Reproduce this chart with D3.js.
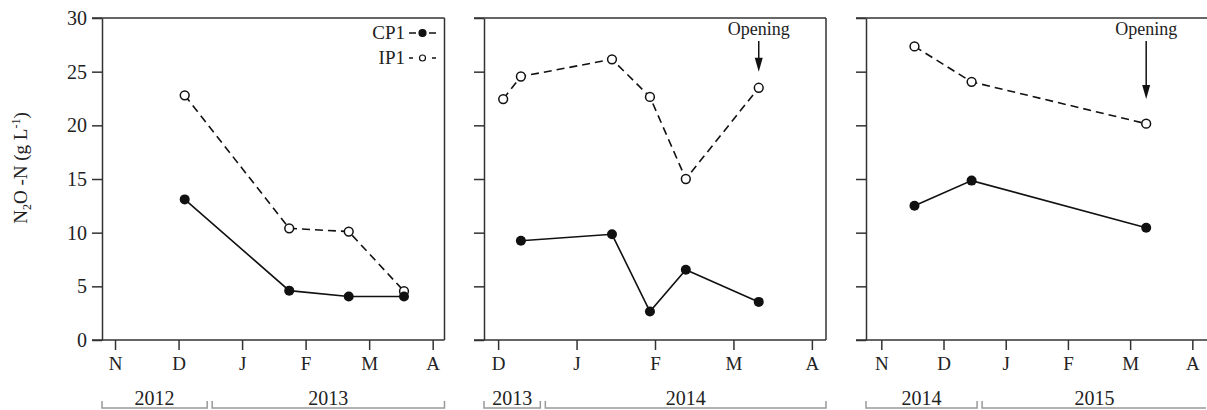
<!DOCTYPE html>
<html>
<head>
<meta charset="utf-8">
<script src="https://cdn.jsdelivr.net/npm/d3@7"></script>
<style>
  body { margin: 0; background: #fff; }
  text { font-family: "Liberation Serif", "Times New Roman", serif; fill: #222; }
</style>
</head>
<body>
<script>
// month letters shown on each panel (first letter = month index 0)
let months1 = ["N", "D", "J", "F", "M", "A"];
let months2 = ["D", "J", "F", "M", "A"];
let months3 = ["N", "D", "J", "F", "M", "A"];

// sampling dates per panel
let dates1 = ["2012-12-04", "2013-01-24", "2013-02-20", "2013-03-18"];
let cp1_1 = [13.1, 4.6, 4.05, 4.05];
let ip1_1 = [22.8, 10.4, 10.1, 4.55];

let dates2 = ["2013-12-03", "2013-12-10", "2014-01-15", "2014-01-30", "2014-02-12", "2014-03-11"];
let cp1_2 = [null, 9.25, 9.85, 2.65, 6.55, 3.55];
let ip1_2 = [22.45, 24.55, 26.15, 22.65, 15.0, 23.5];

let dates3 = ["2014-11-17", "2014-12-15", "2015-03-09"];
let cp1_3 = [12.5, 14.85, 10.45];
let ip1_3 = [27.35, 24.05, 20.15];

// years under each panel, and where the year bracket splits (in months from panel start)
let years1 = ["2012", "2013"], split1 = 1.49;
let years2 = ["2013", "2014"], split2 = 0.57;
let years3 = ["2014", "2015"], split3 = 1.58;

// "Opening" arrows: panel index, date, value where the arrow tip ends
let openings = [[1, "2014-03-11", 25.0], [2, "2015-03-09", 22.45]];

let yTicks = [0, 5, 10, 15, 20, 25, 30];

let w = 1207, h = 410;
let svg = d3.select("body").append("svg").attr("width", w).attr("height", h);

let plotTop = 18, plotBottom = 340;
let y = d3.scaleLinear().domain([0, 30]).range([plotBottom, plotTop]);

let panels = [
    { start: "2012-11", months: months1, dates: dates1, cp: cp1_1, ip: ip1_1, years: years1, split: split1,
      dom: [-0.205, 5.186], px: [102, 444.5], right: true },
    { start: "2013-12", months: months2, dates: dates2, cp: cp1_2, ip: ip1_2, years: years2, split: split2,
      dom: [-0.18, 4.18], px: [484, 826], right: true },
    { start: "2014-11", months: months3, dates: dates3, cp: cp1_3, ip: ip1_3, years: years3, split: split3,
      dom: [-0.246, 5.3], px: [866, 1211], right: false }
];

// fractional month offset of a date from the panel's first month
function monthPos(dateStr, startStr) {
    let d = new Date(dateStr + "T00:00:00");
    let s = new Date(startStr + "-01T00:00:00");
    let dim = new Date(d.getFullYear(), d.getMonth() + 1, 0).getDate();
    return (d.getFullYear() * 12 + d.getMonth()) - (s.getFullYear() * 12 + s.getMonth()) + (d.getDate() - 1) / dim;
}

let axisColor = "#333";

panels.forEach(function(p, i) {
    let x = d3.scaleLinear().domain(p.dom).range(p.px);
    let g = svg.append("g");

    // frame: top line + right line
    g.append("line").attr("x1", p.px[0] - 10).attr("x2", p.px[1]).attr("y1", plotTop).attr("y2", plotTop)
        .attr("stroke", axisColor).attr("stroke-width", 1.5);
    if (p.right) {
        g.append("line").attr("x1", p.px[1]).attr("x2", p.px[1]).attr("y1", plotTop).attr("y2", plotBottom)
            .attr("stroke", axisColor).attr("stroke-width", 1.5);
    }

    // y axis
    let yAxis = d3.axisLeft(y).tickValues(yTicks).tickSize(10).tickSizeOuter(0)
        .tickFormat(i === 0 ? d3.format("d") : "");
    let ya = g.append("g").attr("transform", "translate(" + p.px[0] + ",0)").call(yAxis);
    ya.attr("font-family", null);
    ya.select(".domain").attr("stroke", axisColor).attr("stroke-width", 1.5);
    ya.selectAll(".tick line").attr("stroke", axisColor).attr("stroke-width", 1.5);
    ya.selectAll(".tick text").attr("font-size", 20).attr("fill", "#222").attr("x", -15);

    // x axis (bottom line from y tick to right)
    g.append("line").attr("x1", p.px[0] - 10).attr("x2", p.px[1]).attr("y1", plotBottom).attr("y2", plotBottom)
        .attr("stroke", axisColor).attr("stroke-width", 1.5);
    let xAxis = d3.axisBottom(x).tickValues(d3.range(p.months.length)).tickSize(10).tickSizeOuter(0)
        .tickFormat(function(d) { return p.months[d]; });
    let xa = g.append("g").attr("transform", "translate(0," + plotBottom + ")").call(xAxis);
    xa.attr("font-family", null);
    xa.select(".domain").remove();
    xa.selectAll(".tick line").attr("stroke", axisColor).attr("stroke-width", 1.5);
    xa.selectAll(".tick text").attr("font-size", 19).attr("fill", "#222").attr("y", 17);

    // year brackets
    let yb = 408, yt = 401;
    let segs = [[p.px[0], x(p.split) - 2.5], [x(p.split) + 2.5, p.px[1]]];
    segs.forEach(function(s, k) {
        let x2 = Math.min(s[1], w - 1);
        g.append("path")
            .attr("d", "M" + s[0] + "," + yt + "V" + yb + "H" + x2 + (s[1] < w ? "V" + yt : ""))
            .attr("fill", "none").attr("stroke", "#999").attr("stroke-width", 1.5);
        g.append("text").attr("x", (s[0] + Math.min(s[1], w)) / 2).attr("y", 405)
            .attr("text-anchor", "middle").attr("font-size", 20).text(p.years[k]);
    });

    let pts = p.dates.map(function(d, k) {
        return { x: monthPos(d, p.start), cp: p.cp[k], ip: p.ip[k] };
    });

    let lineCP = d3.line()
        .x(function(d) { return x(d.x); }).y(function(d) { return y(d.cp); });
    let lineIP = d3.line()
        .x(function(d) { return x(d.x); }).y(function(d) { return y(d.ip); });

    let ipPts = pts.filter(function(d) { return d.ip != null; });
    let cpPts = pts.filter(function(d) { return d.cp != null; });

    g.append("path").datum(ipPts).attr("d", lineIP)
        .attr("fill", "none").attr("stroke", "#111").attr("stroke-width", 1.6).attr("stroke-dasharray", "8,5");
    g.append("path").datum(cpPts).attr("d", lineCP)
        .attr("fill", "none").attr("stroke", "#111").attr("stroke-width", 1.6);

    g.selectAll(".ipdot").data(ipPts).enter().append("circle")
        .attr("cx", function(d) { return x(d.x); }).attr("cy", function(d) { return y(d.ip); })
        .attr("r", 4.4).attr("fill", "#fff").attr("stroke", "#111").attr("stroke-width", 1.5);
    g.selectAll(".cpdot").data(cpPts).enter().append("circle")
        .attr("cx", function(d) { return x(d.x); }).attr("cy", function(d) { return y(d.cp); })
        .attr("r", 5).attr("fill", "#111");

    // opening arrows
    openings.filter(function(o) { return o[0] === i; }).forEach(function(o) {
        let ox = x(monthPos(o[1], p.start));
        let tipY = y(o[2]);
        g.append("text").attr("x", ox).attr("y", 35).attr("text-anchor", "middle").attr("font-size", 18).text("Opening");
        g.append("line").attr("x1", ox).attr("x2", ox).attr("y1", 41).attr("y2", tipY - 12)
            .attr("stroke", "#111").attr("stroke-width", 1.5);
        g.append("path")
            .attr("d", "M" + (ox - 4) + "," + (tipY - 14) + "L" + (ox + 4) + "," + (tipY - 14) + "L" + ox + "," + tipY + "Z")
            .attr("fill", "#111");
    });
});

// legend inside panel 1
let legend = svg.append("g");
let legendRows = [{ name: "CP1", filled: true, y: 33 }, { name: "IP1", filled: false, y: 58 }];
legendRows.forEach(function(r) {
    legend.append("text").attr("x", 405).attr("y", r.y + 6).attr("text-anchor", "end").attr("font-size", 19).text(r.name);
    legend.append("line").attr("x1", 409).attr("x2", 436).attr("y1", r.y).attr("y2", r.y)
        .attr("stroke", "#111").attr("stroke-width", 1.5)
        .attr("stroke-dasharray", r.filled ? "7,13,7" : "4,6,7,6,4");
    legend.append("circle").attr("cx", 422.5).attr("cy", r.y).attr("r", r.filled ? 3.5 : 3)
        .attr("fill", r.filled ? "#111" : "#fff").attr("stroke", "#111").attr("stroke-width", 1.2);
});

// y label
let yl = svg.append("text").attr("transform", "translate(27,168) rotate(-90)")
    .attr("text-anchor", "middle").attr("font-size", 19);
yl.append("tspan").text("N");
yl.append("tspan").attr("font-size", 12).attr("dy", 4).text("2");
yl.append("tspan").attr("dy", -4).text("O -N (g L");
yl.append("tspan").attr("font-size", 12).attr("dy", -7).text("-1");
yl.append("tspan").attr("dy", 7).text(")");
</script>
</body>
</html>
